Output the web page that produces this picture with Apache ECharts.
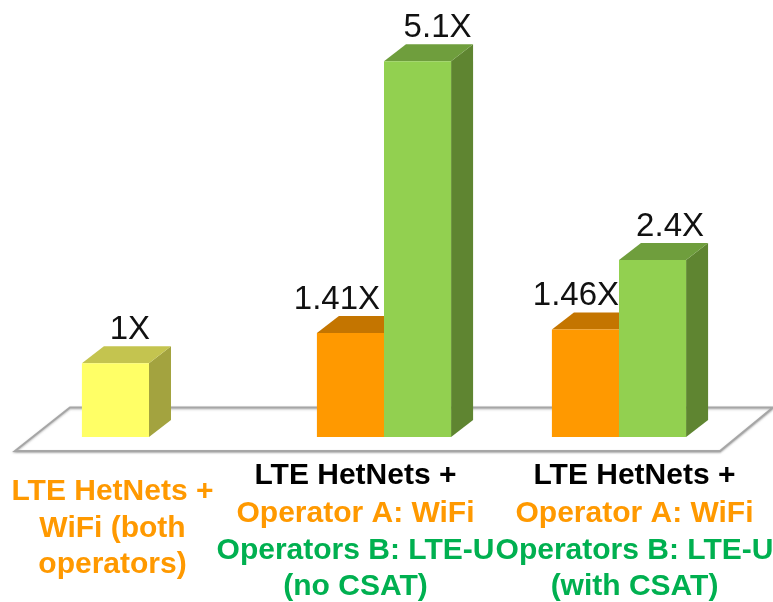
<!DOCTYPE html>
<html>
<head>
<meta charset="utf-8">
<title>LTE HetNets throughput gain</title>
<script src="https://cdn.jsdelivr.net/npm/echarts@6/dist/echarts.min.js"></script>
<style>
  html, body { margin: 0; padding: 0; background: #fff; }
  #chart { width: 773px; height: 602px; }
</style>
</head>
<body>
<div id="chart"></div>
<script>
// data
const categories = ['no LTE-U', 'no CSAT', 'with CSAT']
const wifiValues = [1, 1.41, 1.46]
const lteuValues = [null, 5.1, 2.4]
const wifiLabels = ['1X', '1.41X', '1.46X']
const lteuLabels = ['', '5.1X', '2.4X']
const captionLines = [
  [['LTE HetNets +', 'o'], ['WiFi (both', 'o'], ['operators)', 'o']],
  [['LTE HetNets +', 'k'], ['Operator A: WiFi', 'o'], ['Operators B: LTE-U', 'g'], ['(no CSAT)', 'g']],
  [['LTE HetNets +', 'k'], ['Operator A: WiFi', 'o'], ['Operators B: LTE-U', 'g'], ['(with CSAT)', 'g']]
]

// layout and colours
const captionX = [112.5, 355.5, 634.5]
const captionY = [[492, 529, 565], [476, 514, 551, 587], [476, 514, 551, 587]]
const captionColor = { k: '#000000', o: '#ff9900', g: '#00b050' }
const depthX = 22
const depthY = 17
const yellow = ['#ffff66', '#c4c44f', '#a3a33f']
const orange = ['#ff9900', '#c47500', '#a86400']
const green = ['#92d050', '#6f9e3d', '#5f8531']

const box = (labels, shifts, slot, palette) => (params, api) => {
  const i = api.value(0)
  const base = api.coord([i, 0])
  const top = api.coord([i, api.value(1)])
  const w = api.size([1, 0])[0] * 0.2855
  const x0 = base[0] + slot * w
  const x1 = x0 + w
  const y0 = base[1]
  const y1 = top[1]
  const c = palette(i)
  const poly = (points, color) => ({
    type: 'polygon',
    shape: { points },
    style: { fill: color }
  })
  return {
    type: 'group',
    children: [
      poly([[x1, y0], [x1 + depthX, y0 - depthY], [x1 + depthX, y1 - depthY], [x1, y1]], c[2]),
      poly([[x0, y1], [x0 + depthX, y1 - depthY], [x1 + depthX, y1 - depthY], [x1, y1]], c[1]),
      poly([[x0, y0], [x1, y0], [x1, y1], [x0, y1]], c[0]),
      {
        type: 'text',
        style: {
          x: x0 + w / 2 + shifts[i],
          y: y1 - depthY,
          text: labels[i],
          fill: '#111',
          font: '33px "Liberation Sans", Arial, sans-serif',
          align: 'center',
          verticalAlign: 'bottom'
        }
      }
    ]
  }
}

const toPoints = arr => arr.map((v, i) => [i, v]).filter(p => p[1] !== null)

const captions = []
captionLines.forEach((lines, g) => {
  lines.forEach((line, n) => {
    captions.push({
      type: 'text',
      z: 5,
      style: {
        x: captionX[g],
        y: captionY[g][n],
        text: line[0],
        fill: captionColor[line[1]],
        font: 'bold 30px "Liberation Sans", Arial, sans-serif',
        align: 'center',
        verticalAlign: 'middle'
      }
    })
  })
})

const chart = echarts.init(document.getElementById('chart'))
chart.setOption({
  animation: false,
  backgroundColor: '#fff',
  grid: { left: 31.5, right: 36.5, top: 31.65, bottom: 165 },
  xAxis: { type: 'category', data: categories, show: false },
  yAxis: { type: 'value', min: 0, max: 5.5, show: false },
  graphic: [
    {
      type: 'polygon',
      z: 0,
      shape: { points: [[15, 451], [70, 407.5], [773, 407.5], [720, 451]] },
      style: {
        fill: '#fff',
        stroke: '#a6a6a6',
        lineWidth: 2,
        shadowColor: 'rgba(120,120,120,0.5)',
        shadowBlur: 2,
        shadowOffsetY: 1
      }
    },
    ...captions
  ],
  series: [
    {
      type: 'custom',
      z: 2,
      clip: false,
      data: toPoints(wifiValues),
      encode: { x: 0, y: 1 },
      renderItem: box(wifiLabels, [14.5, -13.5, -9.5], -1, i => (i === 0 ? yellow : orange))
    },
    {
      type: 'custom',
      z: 3,
      clip: false,
      data: toPoints(lteuValues),
      encode: { x: 0, y: 1 },
      renderItem: box(lteuLabels, [0, 20, 17.5], 0, () => green)
    }
  ]
})
</script>
</body>
</html>
